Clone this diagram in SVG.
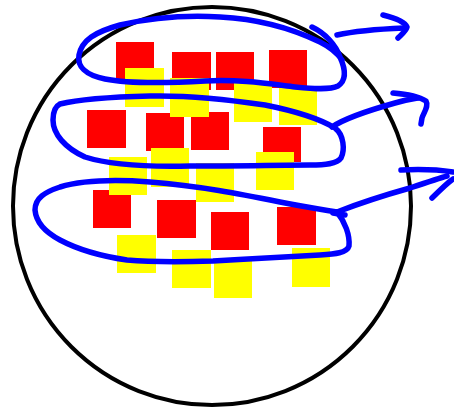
<svg xmlns="http://www.w3.org/2000/svg" width="454" height="408" viewBox="0 0 454 408">
<style>
.r{fill:#ff0000}
.y{fill:#ffff00}
.b{fill:none;stroke:#0000ff;stroke-width:5.5;stroke-linecap:round;stroke-linejoin:round}
</style>
<rect width="454" height="408" fill="#ffffff"/>
<g id="circle"><circle cx="212" cy="206" r="199" fill="none" stroke="#000000" stroke-width="4"/></g>
<g id="red">
<rect class="r" x="116" y="42" width="38" height="38"/>
<rect class="r" x="172" y="52" width="39" height="38"/>
<rect class="r" x="216" y="52" width="38" height="38"/>
<rect class="r" x="269" y="50" width="38" height="38"/>
<rect class="r" x="87" y="110" width="39" height="38"/>
<rect class="r" x="146" y="113" width="38" height="38"/>
<rect class="r" x="191" y="112" width="38" height="38"/>
<rect class="r" x="263" y="127" width="38" height="35"/>
<rect class="r" x="93" y="190" width="38" height="38"/>
<rect class="r" x="157" y="200" width="39" height="38"/>
<rect class="r" x="211" y="212" width="38" height="38"/>
<rect class="r" x="277" y="207" width="39" height="38"/>
</g>
<g id="yellow">
<rect class="y" x="125" y="68" width="39" height="39"/>
<rect class="y" x="170" y="78" width="39" height="39"/>
<rect class="y" x="234" y="83" width="38" height="39"/>
<rect class="y" x="279" y="88" width="38" height="37"/>
<rect class="y" x="109" y="157" width="38" height="38"/>
<rect class="y" x="151" y="148" width="38" height="39"/>
<rect class="y" x="196" y="163" width="38" height="39"/>
<rect class="y" x="256" y="152" width="38" height="38"/>
<rect class="y" x="117" y="235" width="39" height="38"/>
<rect class="y" x="172" y="250" width="39" height="38"/>
<rect class="y" x="214" y="260" width="38" height="38"/>
<rect class="y" x="292" y="248" width="38" height="39"/>
</g>
<g id="connectors">
<path class="b" d="M312,27 C325,33 336,45 340,57 C345,68 347,80 338,86 C330,90 315,89 295,87 C270,84 240,79 205,81 C170,83 130,84 105,79 C85,75 77,66 79,55 C82,40 95,32 120,25 C150,18 185,15 220,17 C260,19 295,30 320,42 C332,48 338,54 342,60"/>
<path class="b" d="M337,35 C355,31 380,29 404,28"/>
<path class="b" d="M383,15 C395,18 405,22 407,27 C406,31 401,35 398,38"/>
<path class="b" d="M60,104 C80,99 110,97 150,96 C190,95 225,99 265,105 C295,111 320,119 335,128 C344,135 345,150 341,158 C337,164 325,165 310,165 C280,165 240,166 190,166 C150,167 110,165 85,157 C65,148 53,134 53,120 C53,110 56,106 60,104"/>
<path class="b" d="M332,127 C345,118 370,110 395,103 C405,100 412,99 418,98"/>
<path class="b" d="M393,93 C405,94 418,96 426,101 C429,106 424,112 422,118 L421,124"/>
<path class="b" d="M337,212 C345,222 350,235 349,246 C347,253 335,254 320,255 C290,257 250,259 213,261 C180,262 150,262 127,260 C100,256 75,248 60,240 C45,232 36,222 35,210 C35,198 45,192 60,187 C80,181 110,179 150,182 C200,186 240,194 280,202 C305,207 325,210 337,212"/>
<path class="b" d="M333,213 L345,215"/>
<path class="b" d="M337,212 C360,203 385,195 410,188 C425,183 440,178 447,176"/>
<path class="b" d="M401,170 C420,169 440,170 453,172"/>
<path class="b" d="M432,198 C440,190 447,183 453,179"/>
</g>
</svg>
